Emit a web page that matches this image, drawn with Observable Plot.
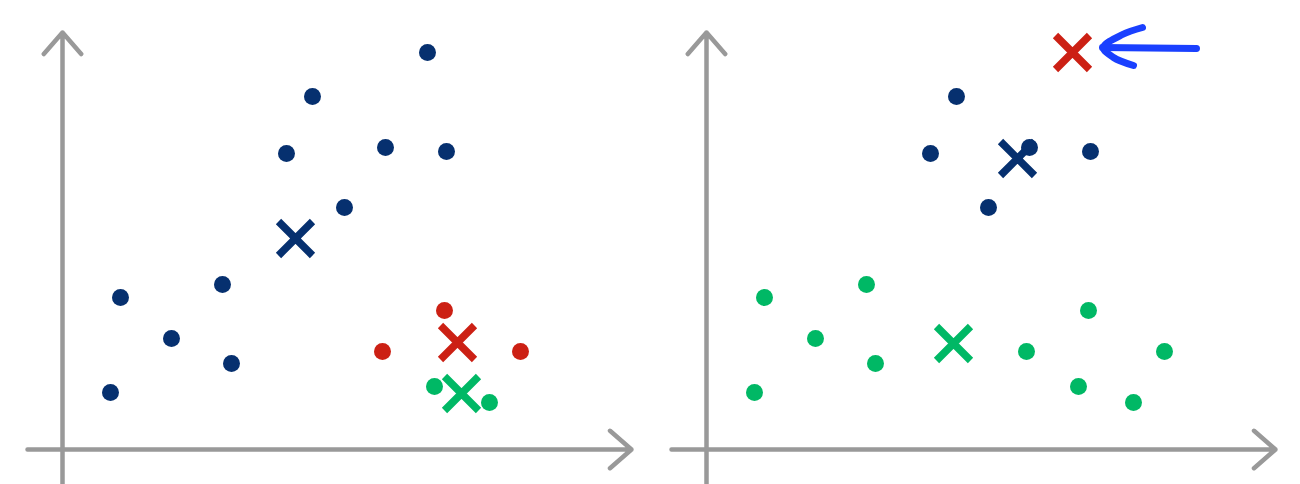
<!DOCTYPE html>
<html><head><meta charset="utf-8">
<script src="https://cdn.jsdelivr.net/npm/d3@7"></script>
<script src="https://cdn.jsdelivr.net/npm/@observablehq/plot@0.6"></script>
<style>
html,body{margin:0;padding:0;background:#fff}
#chart{display:flex;width:1300px;height:484px;overflow:hidden}
#chart svg{display:block;flex:none}
</style>
</head><body><div id="chart"></div>
<script>
// --- data points (same 16 points in both panels) ---
const pointX = [48, 58, 109, 160, 169, 224, 250, 282, 323, 365, 384, 320, 382, 458, 372, 427];
const pointY = [57, 152, 111, 165, 86, 296, 353, 242, 302, 397, 298, 98, 139, 98, 63, 47];
// cluster assignment, left panel
const clustersBefore = ["k1","k1","k1","k1","k1","k1","k1","k1","k1","k1","k1","k2","k2","k2","k3","k3"];
// cluster assignment, right panel (point 10 lies under the k2 centroid)
const clustersAfter = ["k3","k3","k3","k3","k3","k1","k1","k1","k1",null,"k1","k3","k3","k3","k3","k3"];

// centroids
const centroidNames = ["k1", "k2", "k3"];
const centroidXBefore = [233, 395, 399];
const centroidYBefore = [211, 107, 56];
const centroidXAfter = [311, 366, 247];
const centroidYAfter = [291, 397, 106];

// hand-drawn pointer in right panel
const pointerX = [436, 416, 397, 407, 427, 396, 490];
const pointerY = [422, 415, 402, 392, 384, 402, 401];
const pointerPart = ["head","head","head","head","head","shaft","shaft"];

// axis arrows (data units)
const axisX1 = [-35, 0], axisY1 = [0, -40], axisX2 = [569, 0], axisY2 = [0, 417];

const clusterColors = ["#06306f", "#cc2014", "#00b865"];

const points = (assign) => pointX.map((x, i) => ({x, y: pointY[i], c: assign[i]})).filter(d => d.c);
const centroids = (xs, ys) => centroidNames.map((c, i) => ({x: xs[i], y: ys[i], c}));
const axes = axisX1.map((x1, i) => ({x1, y1: axisY1[i], x2: axisX2[i], y2: axisY2[i]}));
const pointer = pointerX.map((x, i) => ({x, y: pointerY[i], part: pointerPart[i]}));

const crossSymbol = {
  draw(context, size) {
    const s = Math.sqrt(size / Math.PI);
    context.moveTo(-s, -s); context.lineTo(s, s);
    context.moveTo(s, -s); context.lineTo(-s, s);
  }
};

function panel(pts, cents, extra) {
  return Plot.plot({
    width: 644, height: 484,
    marginTop: 0, marginRight: 0, marginBottom: 0, marginLeft: 0,
    x: {domain: [-62, 582], axis: null},
    y: {domain: [-35, 449], axis: null},
    color: {type: "ordinal", domain: centroidNames, range: clusterColors},
    style: {background: "white"},
    marks: [
      Plot.arrow(axes, {x1: "x1", y1: "y1", x2: "x2", y2: "y2", stroke: "#999999", strokeWidth: 4.5, headLength: 9.5, headAngle: 82}),
      Plot.dot(pts, {x: "x", y: "y", r: 8.5, fill: "c", stroke: "none"}),
      Plot.dot(cents, {x: "x", y: "y", r: 17, symbol: crossSymbol, fill: "none", stroke: "c", strokeWidth: 7.5, strokeLinecap: "butt"}),
      ...(extra || [])
    ]
  });
}

const chart = document.getElementById("chart");
chart.append(panel(points(clustersBefore), centroids(centroidXBefore, centroidYBefore)));
chart.append(panel(points(clustersAfter), centroids(centroidXAfter, centroidYAfter), [
  Plot.line(pointer, {x: "x", y: "y", z: "part", stroke: "#1a40ff", strokeWidth: 7, curve: "catmull-rom", strokeLinecap: "round", strokeLinejoin: "round"})
]));
</script>
</body></html>
